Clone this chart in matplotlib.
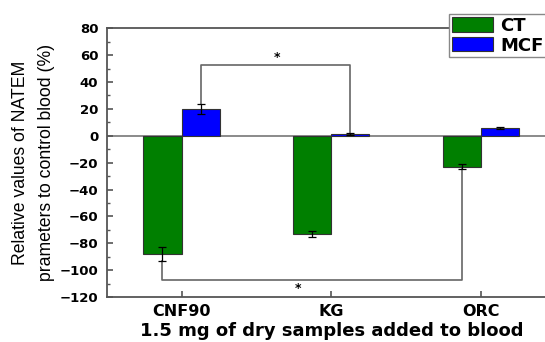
import matplotlib.pyplot as plt
import numpy as np

plt.rcParams['font.family'] = ['DejaVu Sans']

samples = ['CNF90', 'KG', 'ORC']
ct = [-88, -73, -23]
ct_err = [5.5, 2, 2]
mcf = [20, 1.2, 5.5]
mcf_err = [4, 1, 0.8]

x = np.arange(1, len(samples) + 1)
w = 0.255

fig = plt.figure(figsize=(5.45, 3.42), dpi=100)
ax = fig.add_axes([0.1958, 0.1316, 0.824, 0.7857])

b1 = ax.bar(x - w/2, ct, w, color='#007F00', edgecolor='#333333', linewidth=0.8, label='CT', zorder=2)
b2 = ax.bar(x + w/2, mcf, w, color='#0000FF', edgecolor='#333333', linewidth=0.8, label='MCF', zorder=2)
ax.errorbar(x - w/2, ct, yerr=ct_err, fmt='none', ecolor='black', elinewidth=0.9, capsize=3, capthick=0.9, zorder=3)
ax.errorbar(x + w/2, mcf, yerr=mcf_err, fmt='none', ecolor='black', elinewidth=0.9, capsize=3, capthick=0.9, zorder=3)
ax.axhline(0, color='#777777', linewidth=1.2, zorder=1)

# significance brackets
ax.plot([x[0] + w/2, x[0] + w/2, x[1] + w/2, x[1] + w/2],
        [mcf[0] + mcf_err[0], 52.5, 52.5, mcf[1] + mcf_err[1]], color='#666666', lw=1.2, zorder=1)
ax.text(1.64, 53.5, '*', ha='center', va='bottom', fontsize=9, fontweight='bold')
ax.plot([x[0] - w/2, x[0] - w/2, x[2] - w/2, x[2] - w/2],
        [ct[0] - ct_err[0], -107, -107, ct[2] - ct_err[2]], color='#666666', lw=1.2, zorder=1)
ax.text(1.78, -109, '*', ha='center', va='top', fontsize=9, fontweight='bold')

ax.set_xlim(0.5, 3.5)
ax.set_ylim(-120, 80)
ax.set_yticks(np.arange(-120, 81, 20))
ax.set_yticks(np.arange(-120, 81, 10), minor=True)
ax.set_xticks(x)
ax.set_xticklabels(samples, fontweight='bold', fontsize=11.5)
for lab in ax.get_yticklabels():
    lab.set_fontweight('bold')
ax.tick_params(axis='y', labelsize=9.5, direction='in', length=4, width=1.2, color='#555555', pad=6)
ax.tick_params(axis='y', which='minor', direction='in', length=2.5, width=1, color='#555555')
ax.tick_params(axis='x', direction='in', length=4, width=1.2, color='#555555', pad=5)
for s in ax.spines.values():
    s.set_color('#555555')
    s.set_linewidth(1.3)

ax.set_xlabel('1.5 mg of dry samples added to blood', fontsize=13, fontweight='bold', labelpad=2)
ax.set_ylabel('Relative values of NATEM\nprameters to control blood (%)', fontsize=12.7,
              labelpad=3, family='Liberation Sans', linespacing=1.7)

fig.legend(handles=[b1, b2], loc='upper left', bbox_to_anchor=(0.824, 0.959),
           prop={'weight': 'bold', 'size': 13}, fancybox=False, edgecolor='#888888',
           framealpha=1, handlelength=2.3, handleheight=0.85, borderpad=0.15,
           labelspacing=0.1, handletextpad=0.4, borderaxespad=0)

fig.savefig('out.png', dpi=100)
